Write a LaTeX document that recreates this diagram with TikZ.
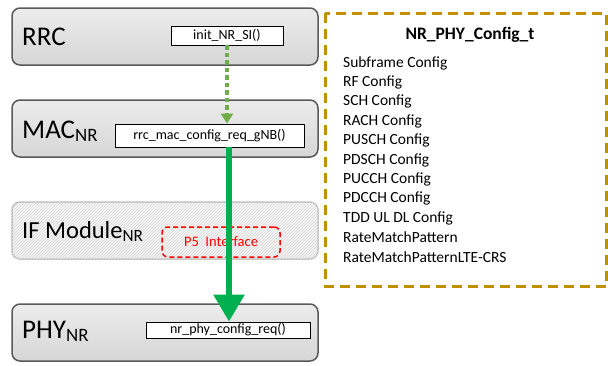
\documentclass[tikz,border=0pt]{standalone}
\usepackage{fontspec}
\setmainfont{Carlito}
\usetikzlibrary{arrows.meta, calc, patterns}
\definecolor{layerborder}{HTML}{595959}
\definecolor{ifborder}{HTML}{BFBFBF}
\definecolor{dotgreen}{HTML}{70AD47}
\definecolor{callgreen}{HTML}{00B050}
\definecolor{structgold}{HTML}{BF9000}
\tikzset{
    my-layer/.style={
        draw=layerborder, line width=1.5pt, rounded corners=8pt,
        top color=gray!15, bottom color=gray!32,
        minimum width=306pt, minimum height=57pt, inner sep=0pt
    },
    my-layer-label/.style={
        anchor=base west, inner sep=0pt, font=\fontsize{27}{30}\selectfont
    },
    my-func/.style={
        draw=black, fill=white, line width=0.9pt, inner sep=0pt,
        font=\fontsize{14}{16}\selectfont
    },
    my-item/.style={
        anchor=west, inner sep=0pt, font=\fontsize{15.5}{17}\selectfont
    },
}

\begin{document}
\begin{tikzpicture}[x=1pt, y=-1pt]

        \useasboundingbox (0, 0) rectangle (608, 365);

        % LAYERS
        \node[my-layer] (RRC) at (165, 36.5)  {};
        \node[my-layer] (MAC) at (165, 128.5) {};
        \node[my-layer, draw=ifborder, top color=gray!6, bottom color=gray!10] (IF) at (165, 230.5) {};
        \fill[pattern=north east lines, pattern color=gray!30, rounded corners=8pt]
            (IF.north west) rectangle (IF.south east);
        \node[my-layer] (PHY) at (165, 332.5) {};

        % LAYER NAMES
        \node[my-layer-label] (RRCNAME) at (22, 45)  {RRC};
        \node[my-layer-label] (MACNAME) at (22, 138) {MAC\textsubscript{NR}};
        \node[my-layer-label, font=\fontsize{24.5}{28}\selectfont] (IFNAME) at (22, 238) {IF Module\textsubscript{NR}};
        \node[my-layer-label] (PHYNAME) at (22, 338) {PHY\textsubscript{NR}};

        % FUNCTIONS
        \node[my-func, minimum width=112pt, minimum height=19pt] (INITSI)  at (227, 35.5)  {init\_NR\_SI()};
        \node[my-func, minimum width=189pt, minimum height=23pt] (MACCONF) at (209.5, 135.5) {rrc\_mac\_config\_req\_gNB()};
        \node[my-func, minimum width=164pt, minimum height=16pt] (PHYCONF) at (228, 330)  {nr\_phy\_config\_req()};

        % P5 INTERFACE
        \node[draw=red, dashed, line width=1.5pt, dash pattern=on 5pt off 3pt, rounded corners=6pt,
              minimum width=118pt, minimum height=30pt, text=red,
              font=\fontsize{14.5}{16}\selectfont] (P5) at (221, 242) {P5\ \ Interface};

        % CALLS
        \coordinate (CALLTOP) at ($(MACCONF.south) + (19.5, 0)$);
        \draw[dotgreen, line width=4pt, dash pattern=on 4.5pt off 3pt, -{Triangle[width=12pt, length=10pt]}]
            (INITSI.south) -- (INITSI.south |- MACCONF.north);
        \draw[callgreen, line width=6pt, -{Triangle[width=30pt, length=27pt]}]
            (CALLTOP) -- (CALLTOP |- PHYCONF.north);

        % NR_PHY_CONFIG_T STRUCTURE
        \draw[structgold, line width=3pt, dash pattern=on 10pt off 6pt] (325, 13) rectangle (606.5, 286);
        \node[font=\bfseries\fontsize{17.5}{20}\selectfont] (STRUCT) at (470, 35) {NR\_PHY\_Config\_t};
        \foreach \item [count=\i from 0] in {Subframe Config, RF Config, SCH Config, RACH Config,
                PUSCH Config, PDSCH Config, PUCCH Config, PDCCH Config, TDD UL DL Config,
                RateMatchPattern, RateMatchPatternLTE-CRS}
            \node[my-item] (ITEM\i) at (343, 63 + 19.4*\i) {\item};

    \end{tikzpicture}
\end{document}
